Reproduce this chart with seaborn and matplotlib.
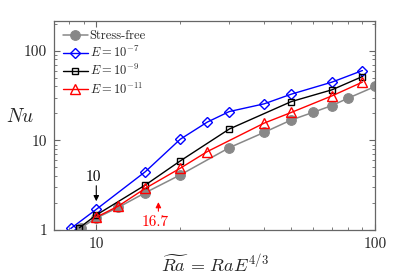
import matplotlib
matplotlib.use("Agg")
import matplotlib.pyplot as plt
import matplotlib.ticker as mticker
import seaborn as sns
import numpy as np

# Data
sf_x = [8.8, 10, 12, 15, 20, 30, 40, 50, 60, 70, 80, 100]
sf_y = [1.06, 1.36, 1.79, 2.61, 4.12, 8.3, 12.3, 16.9, 20.6, 24.5, 29.6, 40.0]

e7_x = [8.1, 10, 15, 20, 25, 30, 40, 50, 70, 90]
e7_y = [1.04, 1.70, 4.48, 10.3, 16.0, 21.0, 25.6, 32.8, 44.7, 60.2]

e9_x = [8.7, 10, 15, 20, 30, 50, 70, 90]
e9_y = [1.06, 1.47, 3.18, 5.9, 13.4, 27.1, 36.7, 51.6]

e11_x = [10, 12, 15, 20, 25, 40, 50, 70, 90]
e11_y = [1.39, 1.85, 2.92, 4.89, 7.5, 15.6, 20.5, 31.4, 44.7]

labels = ["Stress-free", r"$E=10^{-7}$", r"$E=10^{-9}$", r"$E=10^{-11}$"]
xticks = [10, 100]
yticks = [1, 10, 100]

sns.set_style("ticks")
plt.rcParams["font.family"] = ["serif"]
plt.rcParams["font.serif"] = ["cmr10", "DejaVu Serif"]
plt.rcParams["mathtext.fontset"] = "cm"
plt.rcParams["axes.formatter.use_mathtext"] = True

fig = plt.figure(figsize=(4.15, 2.75), dpi=100)
ax = fig.add_axes([0.130, 0.1636, 0.774, 0.76])

spine_c = "#666666"
sns.lineplot(x=sf_x, y=sf_y, ax=ax, color="#888888", marker="o", markersize=7,
             markeredgecolor="#888888", lw=1.1, label=labels[0])
sns.lineplot(x=e7_x, y=e7_y, ax=ax, color="#0000ff", marker="D", markersize=5.5,
             markerfacecolor="none", markeredgecolor="#0000ff", markeredgewidth=1.0, lw=1.0, label=labels[1])
sns.lineplot(x=e9_x, y=e9_y, ax=ax, color="black", marker="s", markersize=5,
             markerfacecolor="none", markeredgecolor="black", markeredgewidth=1.0, lw=1.0, label=labels[2])
sns.lineplot(x=e11_x, y=e11_y, ax=ax, color="#ff0000", marker="^", markersize=7.5,
             markerfacecolor="none", markeredgecolor="#ff0000", markeredgewidth=1.0, lw=1.0, label=labels[3])

ax.set_xscale("log")
ax.set_yscale("log")
ax.set_xlim(7.05, 100)
ax.set_ylim(1, 215)

ax.set_xticks(xticks)
ax.set_xticklabels([str(t) for t in xticks])
ax.set_yticks(yticks)
ax.set_yticklabels([str(t) for t in yticks])
ax.xaxis.set_minor_formatter(mticker.NullFormatter())
ax.yaxis.set_minor_formatter(mticker.NullFormatter())
ax.tick_params(which="both", direction="in", top=True, right=True, color=spine_c)
ax.tick_params(which="major", length=4, labelsize=11, pad=5)
ax.tick_params(which="minor", length=2)
for s in ax.spines.values():
    s.set_color(spine_c)
    s.set_linewidth(0.9)

ax.set_xlabel(r"$\widetilde{Ra}\,=\,RaE^{4/3}$", fontsize=13, labelpad=1)
ax.set_ylabel(r"$Nu$", fontsize=14, rotation=0, va="center")
ax.yaxis.set_label_coords(-0.105, 0.54)

ax.annotate("", xy=(10, 1.95), xytext=(10, 3.35),
            arrowprops=dict(arrowstyle="-|>", color="black", lw=0.8, mutation_scale=8))
ax.text(9.8, 3.85, "10", ha="center", va="center", fontsize=11, color="black")
ax.annotate("", xy=(16.7, 2.2), xytext=(16.7, 1.51),
            arrowprops=dict(arrowstyle="-|>", color="#ff0000", lw=0.8, mutation_scale=8))
ax.text(16.2, 1.21, "16.7", ha="center", va="center", fontsize=11, color="#ff0000")

leg = ax.legend(loc="upper left", frameon=False, fontsize=9, handlelength=2.0,
                handletextpad=0.15, labelspacing=0.25, borderaxespad=0.3,
                bbox_to_anchor=(0.0, 1.0))

fig.savefig("out.png", dpi=100)
